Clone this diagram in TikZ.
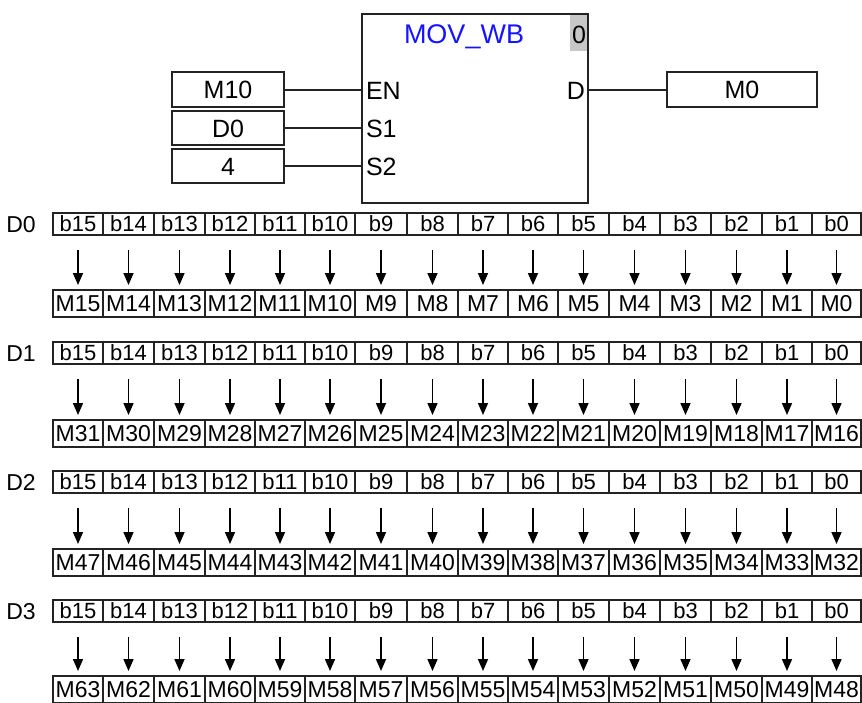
\documentclass[tikz,border=0pt]{standalone}
\usepackage{fontspec}
\setmainfont{Liberation Sans}
\usetikzlibrary{arrows.meta}
\definecolor{lin}{RGB}{35,35,35}
\definecolor{fbblue}{RGB}{20,20,255}
\begin{document}
\begin{tikzpicture}[x=1pt,y=-1pt,
  cellbase/.style={draw=lin, line width=1.5pt, inner sep=0pt, outer sep=0pt, text depth=0pt},
  bitbox/.style={cellbase, minimum height=22pt, text height=15.8pt, font=\fontsize{22}{22}\selectfont},
  mbox/.style={cellbase, minimum height=27pt, text height=16.5pt, font=\fontsize{23}{23}\selectfont},
  dlabel/.style={inner sep=0pt, text height=16.5pt, text depth=0pt, font=\fontsize{23}{23}\selectfont},
  arr/.style={draw=black, line width=1.6pt, -{Triangle[width=10pt,length=12pt]}, shorten <=15pt, shorten >=5pt},
  topbox/.style={draw=lin, line width=1.8pt, inner sep=0pt, outer sep=0pt, text height=18pt, text depth=0pt, font=\fontsize{25}{25}\selectfont},
  pin/.style={inner sep=0pt, outer sep=0pt, text height=18pt, text depth=0pt, font=\fontsize{25}{25}\selectfont},
  wire/.style={draw=lin, line width=2pt}]
\useasboundingbox (0,0) rectangle (862,702);
\clip (0,0) rectangle (862,702);
% --- function block ---
\node[fill=black!22, inner sep=0pt, minimum width=18pt, minimum height=37pt] (num) at (579,32.5) {};
\node[anchor=base, inner sep=0pt, font=\fontsize{25}{25}\selectfont] (numtxt) at (579,43) {0};
\node[draw=lin, line width=2pt, inner sep=0pt, outer sep=0pt, minimum width=226pt, minimum height=189pt] (blk) at (475,108.5) {};
\node[anchor=base, inner sep=0pt, text=fbblue, font=\fontsize{27}{27}\selectfont] (title) at (464,43) {MOV\_WB};
\node[pin, anchor=west] (en) at (366,90) {EN};
\node[pin, anchor=west] (s1) at (366,128) {S1};
\node[pin, anchor=west] (s2) at (366,166) {S2};
\node[pin, anchor=east] (dout) at (585,90) {D};
\node[topbox, minimum width=112pt, minimum height=35pt] (m10) at (228,89.5) {M10};
\node[topbox, minimum width=112pt, minimum height=34pt] (d0in) at (228,128) {D0};
\node[topbox, minimum width=112pt, minimum height=34pt] (n4) at (228,166) {4};
\node[topbox, minimum width=150pt, minimum height=35pt] (m0) at (742,89.5) {M0};
\draw[wire] (m10.east) -- (m10.east -| blk.west);
\draw[wire] (d0in.east) -- (d0in.east -| blk.west);
\draw[wire] (n4.east) -- (n4.east -| blk.west);
\draw[wire] (m0.west -| blk.east) -- (m0.west);
% --- bit rows ---
\foreach \k/\mt in {0/290,1/420,2/549,3/676}{
  \pgfmathsetmacro\by{213+129*\k+11}
  \pgfmathsetmacro\my{\mt+13.5}
  \node[dlabel] (d\k) at (21,\by) {D\k};
  \foreach \l/\r [count=\i from 0] in {53/103,103/154,154/205,205/255,255/305,305/355,355/407,407/458,458/508,508/558,558/609,609/660,660/711,711/762,762/812,812/861}{
    \pgfmathsetmacro\cx{(\l+\r)/2}
    \pgfmathsetmacro\w{\r-\l}
    \pgfmathtruncatemacro\bn{15-\i}
    \pgfmathtruncatemacro\mn{16*\k+15-\i}
    \node[bitbox, minimum width=\w pt] (b\k-\i) at (\cx,\by) {b\bn};
    \node[mbox, minimum width=\w pt] (m\k-\i) at (\cx,\my) {M\mn};
    \draw[arr] (b\k-\i) -- (m\k-\i);
  }
}
\end{tikzpicture}
\end{document}
